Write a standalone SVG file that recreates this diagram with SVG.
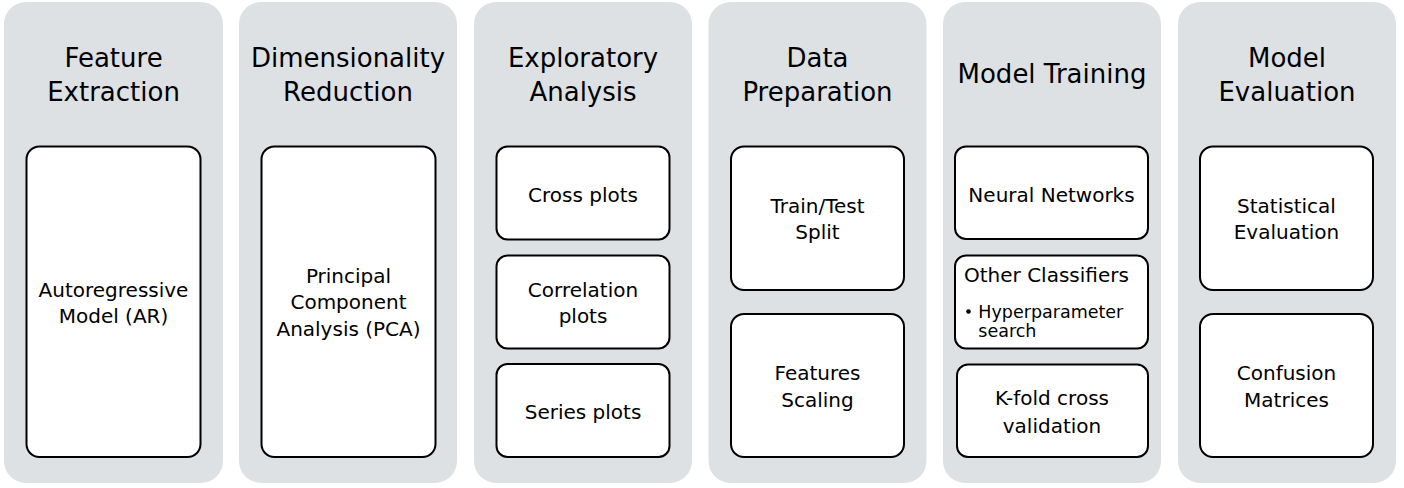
<svg xmlns="http://www.w3.org/2000/svg" width="1404" height="488" viewBox="0 0 1404 488">
<style>
.col{fill:#dee1e4;}
.box{fill:#ffffff;stroke:#000000;stroke-width:2;}
text{font-family:"DejaVu Sans","Verdana",sans-serif;fill:#000000;text-anchor:middle;}
.t{font-size:26px;}
.b{font-size:20px;}
.s{font-size:17.5px;text-anchor:start;}
.l{font-size:20px;text-anchor:start;}
</style>
<rect width="1404" height="488" fill="#ffffff"/>
<g id="col-feature-extraction">
<rect class="col" x="4" y="2" width="219" height="481" rx="22"/>
<text class="t" x="113.5" y="66.7">Feature</text>
<text class="t" x="113.5" y="100.7">Extraction</text>
</g>
<g id="node-ar">
<rect class="box" x="26.5" y="146.5" width="174" height="310.5" rx="13"/>
<text class="b" x="113.5" y="296.7">Autoregressive</text>
<text class="b" x="113.5" y="323.3">Model (AR)</text>
</g>
<g id="col-dimensionality-reduction">
<rect class="col" x="239" y="2" width="218" height="481" rx="22"/>
<text class="t" x="348" y="66.7">Dimensionality</text>
<text class="t" x="348" y="100.7">Reduction</text>
</g>
<g id="node-pca">
<rect class="box" x="261.5" y="146.5" width="174" height="310.5" rx="13"/>
<text class="b" x="348.5" y="282.7">Principal</text>
<text class="b" x="348.5" y="309.3">Component</text>
<text class="b" x="348.5" y="336">Analysis (PCA)</text>
</g>
<g id="col-exploratory-analysis">
<rect class="col" x="474" y="2" width="218" height="481" rx="22"/>
<text class="t" x="583" y="66.7">Exploratory</text>
<text class="t" x="583" y="100.7">Analysis</text>
</g>
<g id="node-cross-plots">
<rect class="box" x="496.5" y="146.5" width="173" height="93" rx="11"/>
<text class="b" x="583" y="201.7">Cross plots</text>
</g>
<g id="node-correlation-plots">
<rect class="box" x="496.5" y="255.5" width="173" height="93" rx="11"/>
<text class="b" x="583" y="296.7">Correlation</text>
<text class="b" x="583" y="323.3">plots</text>
</g>
<g id="node-series-plots">
<rect class="box" x="496.5" y="364" width="173" height="93" rx="11"/>
<text class="b" x="583" y="419.3">Series plots</text>
</g>
<g id="col-data-preparation">
<rect class="col" x="708.5" y="2" width="218" height="481" rx="22"/>
<text class="t" x="817.5" y="66.7">Data</text>
<text class="t" x="817.5" y="100.7">Preparation</text>
</g>
<g id="node-train-test">
<rect class="box" x="731" y="146.5" width="173" height="143.5" rx="13"/>
<text class="b" x="817.5" y="212.7">Train/Test</text>
<text class="b" x="817.5" y="239.3">Split</text>
</g>
<g id="node-features-scaling">
<rect class="box" x="731" y="314" width="173" height="143" rx="13"/>
<text class="b" x="817.5" y="380">Features</text>
<text class="b" x="817.5" y="406.7">Scaling</text>
</g>
<g id="col-model-training">
<rect class="col" x="943" y="2" width="218" height="481" rx="22"/>
<text class="t" x="1052" y="83.3">Model Training</text>
</g>
<g id="node-neural-networks">
<rect class="box" x="955" y="146.5" width="193" height="92.5" rx="11"/>
<text class="b" x="1051.5" y="201.7">Neural Networks</text>
</g>
<g id="node-other-classifiers">
<rect class="box" x="955" y="255.5" width="193" height="93" rx="11"/>
<text class="l" x="964" y="281.7">Other Classifiers</text>
<circle cx="968.5" cy="311.5" r="2.3" fill="#000000"/>
<text class="s" x="978.3" y="317.7">Hyperparameter</text>
<text class="s" x="978.3" y="337">search</text>
</g>
<g id="node-kfold">
<rect class="box" x="957" y="364.5" width="191" height="92.5" rx="11"/>
<text class="b" x="1052" y="405">K-fold cross</text>
<text class="b" x="1052" y="432.7">validation</text>
</g>
<g id="col-model-evaluation">
<rect class="col" x="1178" y="2" width="218" height="481" rx="22"/>
<text class="t" x="1287" y="66.7">Model</text>
<text class="t" x="1287" y="100.7">Evaluation</text>
</g>
<g id="node-statistical-evaluation">
<rect class="box" x="1200" y="146.5" width="173" height="143.5" rx="13"/>
<text class="b" x="1286.5" y="212.7">Statistical</text>
<text class="b" x="1286.5" y="239.3">Evaluation</text>
</g>
<g id="node-confusion-matrices">
<rect class="box" x="1200" y="314" width="173" height="143" rx="13"/>
<text class="b" x="1286.5" y="380">Confusion</text>
<text class="b" x="1286.5" y="406.7">Matrices</text>
</g>
<g id="connectors"></g>
</svg>
